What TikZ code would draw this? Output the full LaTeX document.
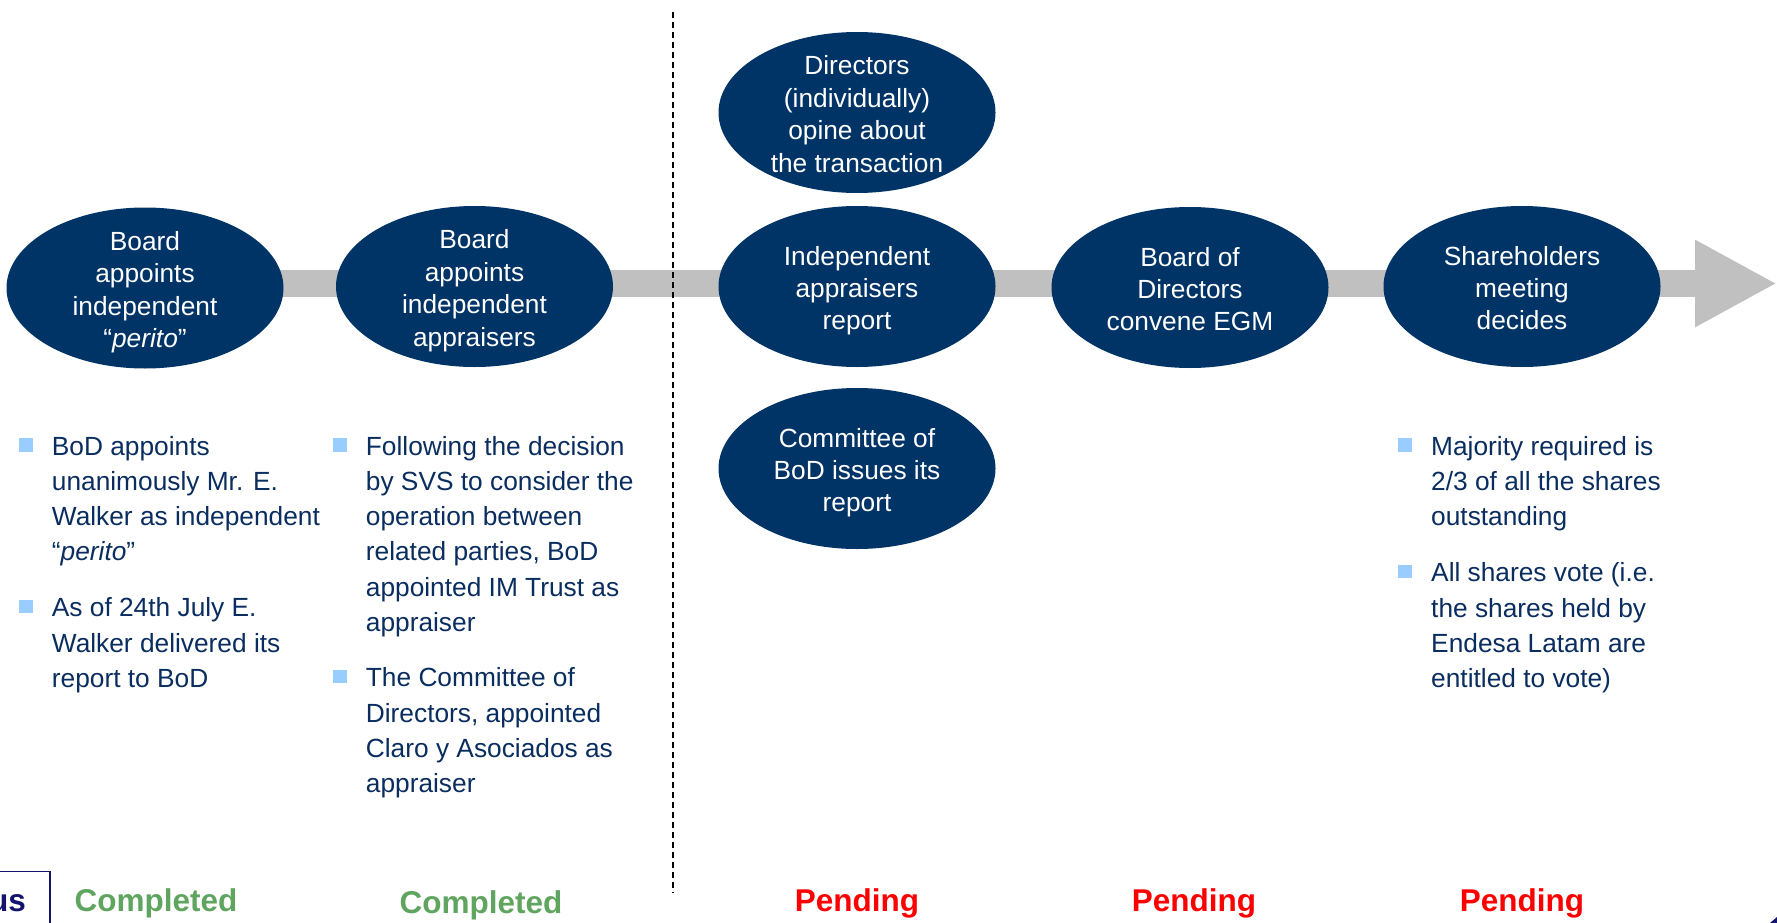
\documentclass[tikz,border=0pt]{standalone}
\usepackage{fontspec}
\setmainfont{Liberation Sans}
\usetikzlibrary{shapes.geometric,arrows.meta,backgrounds}
\definecolor{navy}{RGB}{0,51,102}
\definecolor{textnavy}{RGB}{10,45,95}
\definecolor{deepnavy}{RGB}{20,20,110}
\definecolor{shaftgray}{RGB}{192,192,192}
\definecolor{bulletblue}{RGB}{153,204,255}
\definecolor{donegreen}{RGB}{95,165,95}
\definecolor{pendred}{RGB}{255,0,0}
\tikzset{
  stepoval/.style={ellipse, fill=navy, text=white, inner sep=-45pt,
    minimum width=277pt, minimum height=161pt,
    font=\fontsize{26.3}{32.4}\selectfont},
  bulletsq/.style={rectangle, fill=bulletblue, inner sep=0pt,
    minimum width=14pt, minimum height=13.5pt},
  bullettext/.style={anchor=base west, inner sep=0pt, text=textnavy},
  statusdone/.style={anchor=base, inner sep=0pt, text=donegreen,
    font=\fontsize{31.5}{36}\selectfont\bfseries},
  statuspend/.style={anchor=base, inner sep=0pt, text=pendred,
    font=\fontsize{31.5}{36}\selectfont\bfseries}
}
\newcommand{\ovaltext}[1]{\raisebox{-4.5pt}[\height][\depth]{\begin{tabular}{@{}c@{}}#1\end{tabular}}}
\newcommand{\btext}[1]{\parbox[t]{400pt}{\fontsize{26.3}{35.3}\selectfont\raggedright #1}}
\begin{document}
\begin{tikzpicture}[x=1pt,y=-1pt]
\useasboundingbox (0,0) rectangle (1777,923);
% step ovals
\node[stepoval] (e1) at (145,288) {\ovaltext{Board\\appoints\\independent\\“\textit{perito}”}};
\node[stepoval] (e2) at (474.5,286.5) {\ovaltext{Board\\appoints\\independent\\appraisers}};
\node[stepoval] (e3) at (857,112.5) {\ovaltext{Directors\\(individually)\\opine about\\the transaction}};
\node[stepoval] (e4) at (857,286.5) {\ovaltext{Independent\\appraisers\\report}};
\node[stepoval] (e5) at (857,468.5) {\ovaltext{Committee of\\BoD issues its\\report}};
\node[stepoval] (e6) at (1190,287.5) {\ovaltext{Board of\\Directors\\convene EGM}};
\node[stepoval] (e7) at (1522,286.5) {\ovaltext{Shareholders\\meeting\\decides}};
\coordinate (tip) at (1777,283.5);
% timeline arrow (behind the ovals)
\begin{pgfonlayer}{background}
\draw[shaftgray, line width=26.7pt, -{Triangle[length=82pt,width=81.3pt]}]
  (e1.center |- tip) -- (tip);
\end{pgfonlayer}
% separator
\coordinate (sepTop) at (673,12);
\coordinate (sepBot) at (673,893);
\draw[black, line width=1.1pt, dash pattern=on 6pt off 4pt] (sepTop) -- (sepBot);
% bullets column 1
\node[bulletsq] (b1) at (25.5,445) {};
\node[bullettext] (t1) at (51.7,455) {\btext{BoD appoints\\unanimously Mr. E.\\Walker as independent\\“\textit{perito}”}};
\node[bulletsq] (b2) at (25.5,606.7) {};
\node[bullettext] (t2) at (51.7,616.7) {\btext{As of 24th July E.\\Walker delivered its\\report to BoD}};
% bullets column 2
\node[bulletsq] (b3) at (339.5,445) {};
\node[bullettext] (t3) at (365.7,455) {\btext{Following the decision\\by SVS to consider the\\operation between\\related parties, BoD\\appointed IM Trust as\\appraiser}};
\node[bulletsq] (b4) at (339.5,676.7) {};
\node[bullettext] (t4) at (365.7,686.7) {\btext{The Committee of\\Directors, appointed\\Claro y Asociados as\\appraiser}};
% bullets column 3
\node[bulletsq] (b5) at (1405.4,445) {};
\node[bullettext] (t5) at (1431,455) {\btext{Majority required is\\2/3 of all the shares\\outstanding}};
\node[bulletsq] (b6) at (1405.4,571.7) {};
\node[bullettext] (t6) at (1431,581.7) {\btext{All shares vote (i.e.\\the shares held by\\Endesa Latam are\\entitled to vote)}};
% status row
\draw[deepnavy, line width=1.5pt] (-10,871.7) rectangle (50,940);
\node[anchor=base east, inner sep=0pt, text=deepnavy, font=\fontsize{31.5}{36}\selectfont\bfseries] (st) at (26,911) {us};
\node[statusdone] (s1) at (156,911) {Completed};
\node[statusdone] (s2) at (481,913) {Completed};
\node[statuspend] (s3) at (857,911) {Pending};
\node[statuspend] (s4) at (1194,911) {Pending};
\node[statuspend] (s5) at (1522,911) {Pending};
\fill[deepnavy] (1770,923) -- (1777,917) -- (1777,923) -- cycle;
\end{tikzpicture}
\end{document}
